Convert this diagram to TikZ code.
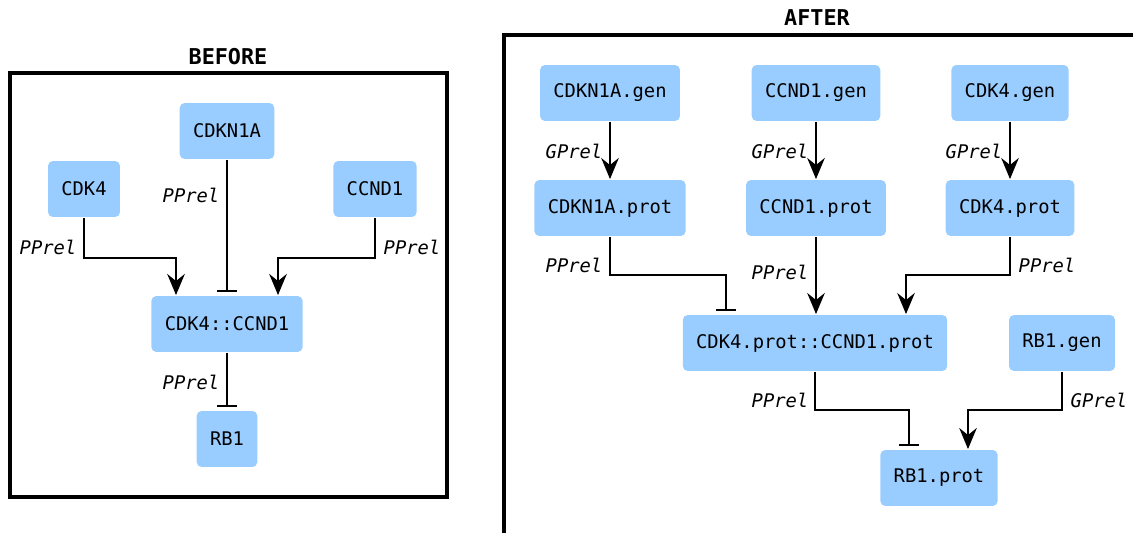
\documentclass[tikz,border=0pt]{standalone}
\usepackage{fontspec}
\setmonofont{DejaVu Sans Mono}
\usepackage{tikz}
\usetikzlibrary{arrows.meta, positioning, calc}
\definecolor{nodeblue}{HTML}{99CCFF}

\begin{document}
\begin{tikzpicture}[x=0.02cm, y=-0.02cm, line width=1.05pt]
    % Define styles
    \tikzstyle{gene}=[fill=nodeblue, rounded corners=2.8pt, minimum height=1.12cm, inner xsep=7.6pt, font=\fontsize{10.7}{13}\selectfont\ttfamily]
    \tikzstyle{rel}=[inner sep=0pt, font=\fontsize{10.7}{13}\selectfont\ttfamily\itshape]
    \tikzstyle{title}=[font=\fontsize{12.4}{15}\selectfont\ttfamily\bfseries]
    \tikzstyle{frame}=[line width=1.9pt]
    \tikzstyle{act}=[-{Stealth[length=12pt, width=10pt, inset=4pt]}]
    \tikzstyle{inh}=[-{Bar[width=11pt]}, shorten >=2pt]

    \useasboundingbox (0,0) rectangle (1133,533);

    % Left side - Before
    \node[title] (tbefore) at (228,57) {BEFORE};
    \draw[frame] (10,73) rectangle (447,497);

    \node[gene] (cdknA) at (227,131) {CDKN1A};
    \node[gene] (cdkA) at (84,189) {CDK4};
    \node[gene] (ccndA) at (375,189) {CCND1};
    \node[gene] (cplxA) at (227,324) {CDK4::CCND1};
    \node[gene] (rbA) at (227,439) {RB1};

    \draw[act] (cdkA.south) -- ++(0,40) -| ($(cplxA.north)+(-51,0)$);
    \draw[act] (ccndA.south) -- ++(0,40) -| ($(cplxA.north)+(51,0)$);
    \draw[inh] (cdknA) -- (cplxA);
    \draw[inh] (cplxA) -- (rbA);

    \node[rel] (pcdkA) at (48,247) {PPrel};
    \node[rel] (pccndA) at (412,247) {PPrel};
    \node[rel] (pcdknA) at (191,195) {PPrel};
    \node[rel] (pcplxA) at (191,382) {PPrel};

    % Right side - After
    \node[title] (tafter) at (817,18) {AFTER};
    \draw[frame] (504,540) -- (504,35) -- (1140,35);

    % gene -> protein columns
    \foreach \n/\t/\x in {cdknB/CDKN1A/610, ccndB/CCND1/816, cdkB/CDK4/1010} {
        \node[gene] (\n-gen) at (\x,93) {\t.gen};
        \node[gene] (\n-prot) at (\x,208) {\t.prot};
        \draw[act] (\n-gen) -- (\n-prot);
        \node[rel] (g\n) at (\x-36,151) {GPrel};
    }

    \node[gene] (cplxB) at (815,343) {CDK4.prot::CCND1.prot};
    \node[gene] (rbB-gen) at (1062,343) {RB1.gen};
    \node[gene] (rbB-prot) at (939,478) {RB1.prot};

    \draw[inh] (cdknB-prot.south) -- ++(0,38) -| ($(cplxB.north)+(-89,0)$);
    \draw[act] (ccndB-prot.south) -- (ccndB-prot.south |- cplxB.north);
    \draw[act] (cdkB-prot.south) -- ++(0,38) -| ($(cplxB.north)+(91,0)$);
    \draw[inh] (cplxB.south) -- ++(0,38) -| ($(rbB-prot.north)+(-30,0)$);
    \draw[act] (rbB-gen.south) -- ++(0,38) -| ($(rbB-prot.north)+(29,0)$);

    \node[rel] (pcdknB) at (574,265) {PPrel};
    \node[rel] (pccndB) at (780,272) {PPrel};
    \node[rel] (pcdkB) at (1047,265) {PPrel};
    \node[rel] (pcplxB) at (780,400) {PPrel};
    \node[rel] (grbB) at (1099,400) {GPrel};
\end{tikzpicture}
\end{document}
